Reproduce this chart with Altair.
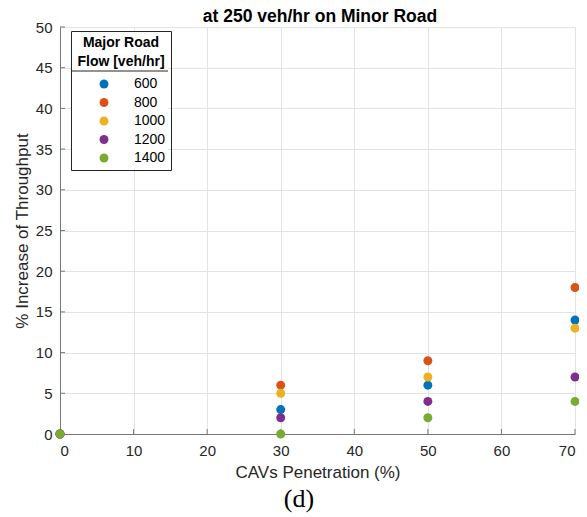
import altair as alt
import pandas as pd

# ---- data ----
penetration = [0, 30, 50, 70]
flows = ["600", "800", "1000", "1200", "1400"]
inc_600 = [0, 3, 6, 14]
inc_800 = [0, 6, 9, 18]
inc_1000 = [0, 5, 7, 13]
inc_1200 = [0, 2, 4, 7]
inc_1400 = [0, 0, 2, 4]
colors = ["#0072BD", "#D95319", "#EDB120", "#7E2F8E", "#77AC30"]
x_ticks = [0, 10, 20, 30, 40, 50, 60, 70]
y_ticks = [0, 5, 10, 15, 20, 25, 30, 35, 40, 45, 50]
title_text = "at 250 veh/hr on Minor Road"

series = [inc_600, inc_800, inc_1000, inc_1200, inc_1400]
rows = []
for i, (f, vals) in enumerate(zip(flows, series)):
    for p, v in zip(penetration, vals):
        rows.append({"pen": p, "inc": v, "flow": f, "ord": i})
df = pd.DataFrame(rows)

W, H = 515, 407
FONT = "Liberation Sans"
AX = "#777777"
TXT = "#262626"

xscale = alt.Scale(domain=[0, 70], nice=False, zero=False)
yscale = alt.Scale(domain=[0, 50], nice=False)

xaxis = alt.Axis(values=x_ticks, title="CAVs Penetration (%)", ticks=False,
                 labelPadding=9, titlePadding=6, format="d")
yaxis = alt.Axis(values=y_ticks, title="% Increase of Throughput", ticks=False,
                 labelPadding=8, titlePadding=4, format="d")

one = pd.DataFrame({"k": [0]})

legend_bg = alt.Chart(one).mark_rect(fill="white").encode(
    x=alt.value(11), x2=alt.value(108), y=alt.value(4), y2=alt.value(142))
legend_sep = alt.Chart(one).mark_rule(color=TXT, strokeWidth=1).encode(
    x=alt.value(11), x2=alt.value(108), y=alt.value(44))

xt = alt.Chart(pd.DataFrame({"pen": x_ticks})).mark_rule(color=AX).encode(
    x=alt.X("pen:Q", scale=xscale, axis=xaxis), y=alt.value(H), y2=alt.value(H - 5))
yt = alt.Chart(pd.DataFrame({"inc": y_ticks})).mark_rule(color=AX).encode(
    y=alt.Y("inc:Q", scale=yscale, axis=yaxis), x=alt.value(0), x2=alt.value(5))

points = alt.Chart(df).mark_circle(size=80, opacity=1).encode(
    x=alt.X("pen:Q", scale=xscale, axis=xaxis),
    y=alt.Y("inc:Q", scale=yscale, axis=yaxis),
    color=alt.Color("flow:N", sort=flows,
                    scale=alt.Scale(domain=flows, range=colors),
                    legend=alt.Legend(
                        title=["Major Road", "Flow [veh/hr]"],
                        orient="none", legendX=11, legendY=4,
                        titleAnchor="middle", titleAlign="center",
                        titleFont=FONT, titleFontSize=14, titleFontWeight="bold",
                        titleColor="black", titleLineHeight=19, titlePadding=8,
                        labelFont=FONT, labelFontSize=14, labelColor="black",
                        labelOffset=23, symbolOffset=21,
                        symbolType="circle", symbolSize=80, symbolStrokeWidth=0,
                        rowPadding=4.5, padding=5,
                        strokeColor=TXT)),
    order=alt.Order("ord:Q"))

title = alt.Chart(one).mark_text(font=FONT, fontSize=17.5, fontWeight="bold",
                                 color="black", baseline="alphabetic",
                                 align="center").encode(
    x=alt.value(260), y=alt.value(-5.5), text=alt.value(title_text))

tag = alt.Chart(one).mark_text(font="Liberation Serif", fontSize=26,
                               color="black", baseline="alphabetic",
                               align="center").encode(
    x=alt.value(239), y=alt.value(480), text=alt.value("(d)"))

chart = alt.layer(legend_bg, legend_sep, xt, yt, points, title, tag).properties(
    width=W, height=H,
    autosize=alt.AutoSizeParams(type="none"),
    padding={"left": 52, "top": 19, "right": 4, "bottom": 80},
).configure_view(stroke=None).configure_axis(
    labelFont=FONT, labelFontSize=15, labelColor=TXT,
    titleFont=FONT, titleFontSize=17, titleColor=TXT, titleFontWeight="normal",
    domainColor=AX, domainWidth=1, gridColor="#e3e3e3", gridWidth=1,
)

chart.save("out.html", embed_options={"renderer": "svg", "actions": False})
